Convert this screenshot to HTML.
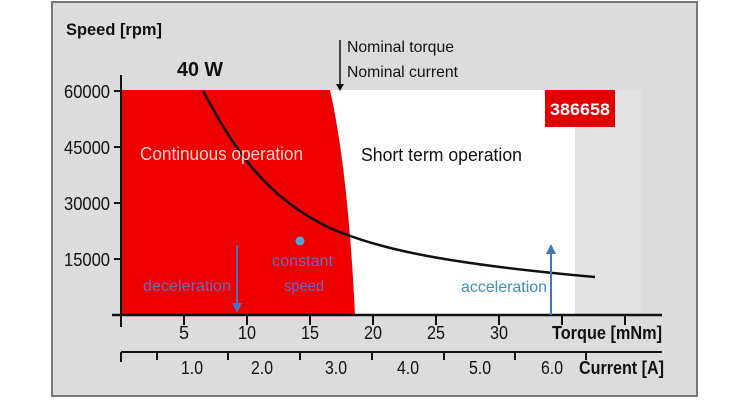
<!DOCTYPE html>
<html><head><style>
html,body{margin:0;padding:0;background:#fff;}
svg{display:block;font-family:"Liberation Sans",sans-serif;}
</style></head><body>
<svg width="740" height="400" viewBox="0 0 740 400">
<defs>
<linearGradient id="g" x1="0" x2="1"><stop offset="0" stop-color="#f4f4f4"/><stop offset="1" stop-color="#e2e2e2"/></linearGradient>
</defs>
<rect x="52" y="2" width="645" height="394" fill="#dcdcdc" stroke="#777" stroke-width="2"/>
<rect x="121" y="90" width="520" height="225" fill="url(#g)"/>
<rect x="330" y="90" width="245" height="225" fill="#fff"/>
<path d="M121,90 L330,90 Q348,170 355,315 L121,315 Z" fill="#ee0000"/>
<rect x="545" y="90" width="70" height="37" fill="#e30000"/>
<text x="550" y="115" font-size="17" font-weight="bold" fill="#fff" textLength="60" lengthAdjust="spacingAndGlyphs">386658</text>
<path d="M203,91 C230,140 260,195 330,228 C380,250 450,264 595,277" fill="none" stroke="#111" stroke-width="2.5"/>
<line x1="121" y1="75" x2="121" y2="315" stroke="#111" stroke-width="2"/>
<line x1="112" y1="315" x2="662" y2="315" stroke="#111" stroke-width="2.5"/>
<g stroke="#111" stroke-width="2">
<line x1="114" y1="91" x2="121" y2="91"/><line x1="114" y1="147" x2="121" y2="147"/><line x1="114" y1="203" x2="121" y2="203"/><line x1="114" y1="259" x2="121" y2="259"/>
<line x1="121" y1="315" x2="121" y2="327"/><line x1="184" y1="315" x2="184" y2="325"/><line x1="247" y1="315" x2="247" y2="325"/><line x1="310" y1="315" x2="310" y2="325"/><line x1="373" y1="315" x2="373" y2="325"/><line x1="436" y1="315" x2="436" y2="325"/><line x1="499" y1="315" x2="499" y2="325"/><line x1="562" y1="315" x2="562" y2="325"/><line x1="625" y1="315" x2="625" y2="325"/>
<line x1="121" y1="352" x2="662" y2="352"/>
<line x1="121" y1="352" x2="121" y2="362"/><line x1="157" y1="352" x2="157" y2="360"/><line x1="228" y1="352" x2="228" y2="360"/><line x1="300" y1="352" x2="300" y2="360"/><line x1="372" y1="352" x2="372" y2="360"/><line x1="444" y1="352" x2="444" y2="360"/><line x1="515" y1="352" x2="515" y2="360"/><line x1="586" y1="352" x2="586" y2="360"/>
</g>
<g font-size="18" fill="#111" lengthAdjust="spacingAndGlyphs">
<text x="64" y="98" textLength="46" lengthAdjust="spacingAndGlyphs">60000</text>
<text x="64" y="154" textLength="46" lengthAdjust="spacingAndGlyphs">45000</text>
<text x="64" y="210" textLength="46" lengthAdjust="spacingAndGlyphs">30000</text>
<text x="64" y="266" textLength="46" lengthAdjust="spacingAndGlyphs">15000</text>
</g>
<g font-size="18" fill="#111" text-anchor="middle">
<text x="184" y="339">5</text><text x="247" y="339" textLength="18" lengthAdjust="spacingAndGlyphs">10</text><text x="310" y="339" textLength="18" lengthAdjust="spacingAndGlyphs">15</text><text x="373" y="339" textLength="18" lengthAdjust="spacingAndGlyphs">20</text><text x="436" y="339" textLength="18" lengthAdjust="spacingAndGlyphs">25</text><text x="499" y="339" textLength="18" lengthAdjust="spacingAndGlyphs">30</text>
<text x="192" y="374" textLength="22" lengthAdjust="spacingAndGlyphs">1.0</text><text x="262" y="374" textLength="22" lengthAdjust="spacingAndGlyphs">2.0</text><text x="336" y="374" textLength="22" lengthAdjust="spacingAndGlyphs">3.0</text><text x="408" y="374" textLength="22" lengthAdjust="spacingAndGlyphs">4.0</text><text x="480" y="374" textLength="22" lengthAdjust="spacingAndGlyphs">5.0</text><text x="552" y="374" textLength="22" lengthAdjust="spacingAndGlyphs">6.0</text>
</g>
<text x="552" y="339" font-size="18" font-weight="bold" fill="#111" textLength="110" lengthAdjust="spacingAndGlyphs">Torque [mNm]</text>
<text x="579" y="374" font-size="18" font-weight="bold" fill="#111" textLength="85" lengthAdjust="spacingAndGlyphs">Current [A]</text>
<text x="66" y="35" font-size="17" font-weight="bold" fill="#111" textLength="96" lengthAdjust="spacingAndGlyphs">Speed [rpm]</text>
<text x="177" y="76" font-size="20" font-weight="bold" fill="#111" textLength="46" lengthAdjust="spacingAndGlyphs">40 W</text>
<text x="347" y="52" font-size="16" fill="#111" textLength="107" lengthAdjust="spacingAndGlyphs">Nominal torque</text>
<text x="347" y="77" font-size="16" fill="#111" textLength="111" lengthAdjust="spacingAndGlyphs">Nominal current</text>
<line x1="340" y1="40" x2="340" y2="86" stroke="#111" stroke-width="1.5"/>
<path d="M336,84 L344,84 L340,91 Z" fill="#111"/>
<text x="140" y="160" font-size="18" fill="#ffd8d0" textLength="163" lengthAdjust="spacingAndGlyphs">Continuous operation</text>
<text x="361" y="161" font-size="18" fill="#111" textLength="161" lengthAdjust="spacingAndGlyphs">Short term operation</text>
<text x="143" y="291" font-size="16" fill="#6e6ab8" textLength="88" lengthAdjust="spacingAndGlyphs">deceleration</text>
<text x="272" y="266" font-size="16" fill="#6e6ab8" textLength="61" lengthAdjust="spacingAndGlyphs">constant</text>
<text x="284" y="291" font-size="16" fill="#6e6ab8" textLength="40" lengthAdjust="spacingAndGlyphs">speed</text>
<text x="461" y="292" font-size="16" fill="#3a90b8" textLength="86" lengthAdjust="spacingAndGlyphs">acceleration</text>
<circle cx="300" cy="241" r="4.5" fill="#4aa8d8"/>
<line x1="237" y1="245" x2="237" y2="306" stroke="#4a74c0" stroke-width="2"/>
<path d="M232,303 L242,303 L237,313 Z" fill="#4a74c0"/>
<line x1="551" y1="315" x2="551" y2="252" stroke="#4a74c0" stroke-width="2"/>
<path d="M546,254 L556,254 L551,244 Z" fill="#4a74c0"/>
</svg>
</body></html>
